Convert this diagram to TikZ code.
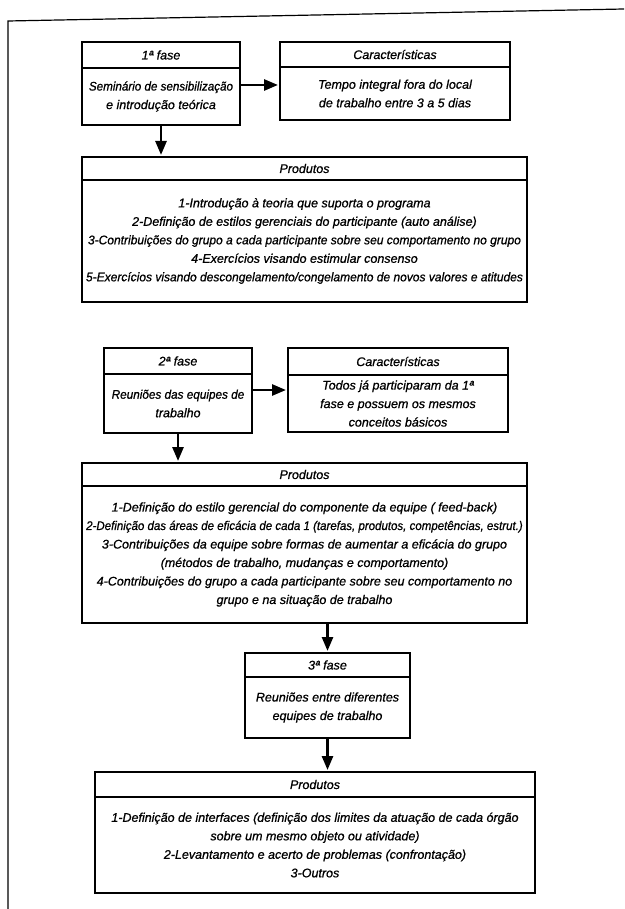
\documentclass[tikz,border=0pt]{standalone}
\usepackage{fontspec}
\setmainfont{Liberation Sans}[ItalicFeatures={FakeBold=0.8}]
\usetikzlibrary{arrows.meta}
\begin{document}
\begin{tikzpicture}[x=1pt,y=-1pt,
  font=\itshape\fontsize{12.5}{18.5}\selectfont,
  box/.style={draw, line width=1.3pt, inner sep=0pt, outer sep=0pt, align=center},
  arr/.style={line width=2.6pt, -{Triangle[length=14pt,width=11pt]}, shorten >=2pt}]
\useasboundingbox (0,0) rectangle (624,909);
\draw[line width=1.2pt] (8,909) -- (8,21) -- (624,9);

% phase 1
\node[box, minimum width=158pt, minimum height=26pt, anchor=north west] (h1) at (82,42) {1ª fase};
\node[box, minimum width=158pt, minimum height=57pt, anchor=north] (b1) at (h1.south) {\scalebox{0.93}[1]{Seminário de sensibilização}\\e introdução teórica};
\node[box, minimum width=230pt, minimum height=25pt, anchor=north west] (ch1) at (280,42) {Características};
\node[box, minimum width=230pt, minimum height=53pt, anchor=north] (cb1) at (ch1.south) {Tempo integral fora do local\\de trabalho entre 3 a 5 dias};
\draw[arr] (b1.east |- 0,85) -- (cb1.west |- 0,85);

\node[box, minimum width=445pt, minimum height=23pt, anchor=north west] (ph1) at (82,157) {Produtos};
\node[box, minimum width=445pt, minimum height=122pt, anchor=north] (pb1) at (ph1.south) {1-Introdução à teoria que suporta o programa\\
2-Definição de estilos gerenciais do participante (auto análise)\\
\scalebox{0.96}[1]{3-Contribuições do grupo a cada participante sobre seu comportamento no grupo}\\
4-Exercícios visando estimular consenso\\
\scalebox{0.96}[1]{5-Exercícios visando descongelamento/congelamento de novos valores e atitudes}};
\draw[arr] (b1.south) -- (b1.south |- ph1.north);

% phase 2
\node[box, minimum width=148pt, minimum height=26pt, anchor=north west] (h2) at (104,348) {2ª fase};
\node[box, minimum width=148pt, minimum height=59pt, anchor=north] (b2) at (h2.south) {\scalebox{0.94}[1]{Reuniões das equipes de}\\trabalho};
\node[box, minimum width=220pt, minimum height=27pt, anchor=north west] (ch2) at (288,348) {Características};
\node[box, minimum width=220pt, minimum height=57pt, anchor=north] (cb2) at (ch2.south) {Todos já participaram da 1ª\\fase e possuem os mesmos\\conceitos básicos};
\draw[arr] (b2.east |- 0,390) -- (cb2.west |- 0,390);

\node[box, minimum width=445pt, minimum height=23pt, anchor=north west] (ph2) at (82,463) {Produtos};
\node[box, minimum width=445pt, minimum height=137pt, anchor=north] (pb2) at (ph2.south) {1-Definição do estilo gerencial do componente da equipe ( feed-back)\\
\scalebox{0.92}[1]{2-Definição das áreas de eficácia de cada 1 (tarefas, produtos, competências, estrut.)}\\
3-Contribuições da equipe sobre formas de aumentar a eficácia do grupo\\
(métodos de trabalho, mudanças e comportamento)\\
4-Contribuições do grupo a cada participante sobre seu comportamento no\\
grupo e na situação de trabalho};
\draw[arr] (b2.south) -- (b2.south |- ph2.north);

% phase 3
\node[box, minimum width=165pt, minimum height=24pt, anchor=north west] (h3) at (245,653) {3ª fase};
\node[box, minimum width=165pt, minimum height=61pt, anchor=north] (b3) at (h3.south) {Reuniões entre diferentes\\equipes de trabalho};
\draw[arr] (pb2.south -| h3.north) -- (h3.north);

\node[box, minimum width=440pt, minimum height=25pt, anchor=north west] (ph3) at (95,772) {Produtos};
\node[box, minimum width=440pt, minimum height=96pt, anchor=north] (pb3) at (ph3.south) {1-Definição de interfaces (definição dos limites da atuação de cada órgão\\
sobre um mesmo objeto ou atividade)\\
2-Levantamento e acerto de problemas (confrontação)\\
3-Outros};
\draw[arr] (b3.south) -- (b3.south |- ph3.north);
\end{tikzpicture}
\end{document}
